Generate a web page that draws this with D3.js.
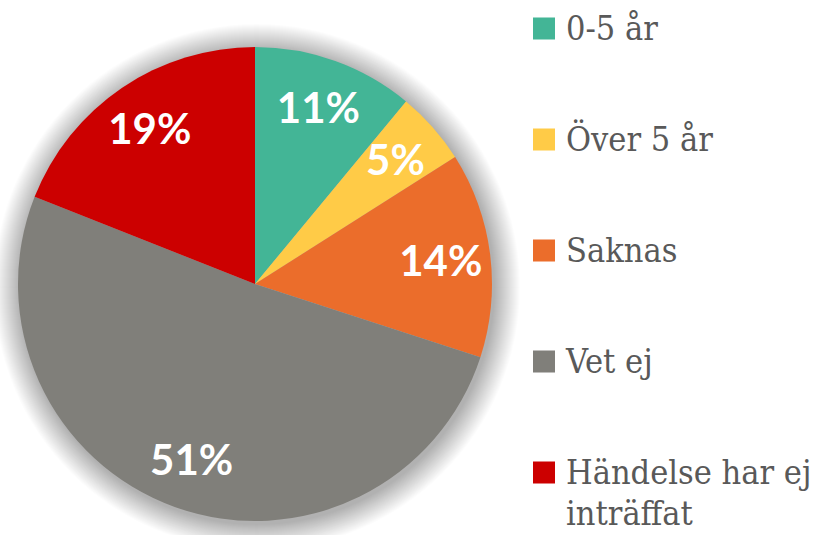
<!DOCTYPE html>
<html>
<head>
<meta charset="utf-8">
<script src="https://cdn.jsdelivr.net/npm/d3@7"></script>
<style>
  body { margin: 0; background: #fff; }
  svg { display: block; }
</style>
</head>
<body>
<div id="chart"></div>
<script>
// data
const categories = ["0-5 år", "Över 5 år", "Saknas", "Vet ej", "Händelse har ej inträffat"]
const values = [11, 5, 14, 51, 19]
const colors = ["#43b596", "#ffcb47", "#eb6d2b", "#807f7a", "#cc0000"]

const width = 826, height = 535
const cx = 255, cy = 284, radius = 237

const svg = d3.select("#chart")
  .append("svg")
    .attr("width", width)
    .attr("height", height)

const pie = d3.pie().sort(null).value(d => d)
const arcs = pie(values)

const arc = d3.arc().innerRadius(0).outerRadius(radius)
const labelArc = d3.arc().innerRadius(radius * 0.79).outerRadius(radius * 0.79)

const g = svg.append("g")
    .attr("transform", "translate(" + cx + "," + cy + ")")

// soft shadow: stacked faint rings behind the pie
g.append("g")
    .attr("transform", "translate(2,3)")
  .selectAll("circle")
  .data(d3.range(1, 27))
  .enter()
  .append("circle")
    .attr("r", k => radius + k)
    .style("fill", "#000")
    .style("fill-opacity", 0.011)

g.append("g")
  .selectAll("path")
  .data(arcs)
  .enter()
  .append("path")
    .attr("d", arc)
    .style("fill", (d, i) => colors[i])

g.selectAll("text.lbl")
  .data(arcs)
  .enter()
  .append("text")
    .attr("class", "lbl")
    .attr("transform", d => "translate(" + labelArc.centroid(d) + ")")
    .attr("text-anchor", "middle")
    .attr("dy", "0.36em")
    .style("font-family", "Lato, 'Open Sans', sans-serif")
    .style("font-weight", 700)
    .style("font-size", "42px")
    .style("fill", "#fff")
    .text(d => d.data + "%")

// legend
const y = d3.scaleBand()
    .domain(categories)
    .range([-27, 528])

const legend = svg.append("g")
    .attr("transform", "translate(533,0)")

const item = legend.selectAll("g")
  .data(categories)
  .enter()
  .append("g")
    .attr("transform", d => "translate(0," + (y(d) + y.bandwidth() / 2) + ")")

item.append("rect")
    .attr("x", 0)
    .attr("y", -11)
    .attr("width", 22)
    .attr("height", 22)
    .style("fill", (d, i) => colors[i])

item.append("text")
    .attr("x", 33)
    .attr("y", 11)
    .style("font-family", "'DejaVu Serif Condensed', 'DejaVu Serif'")
    .style("font-stretch", "condensed")
    .style("font-size", "34px")
    .style("fill", "#595959")
    .each(function(d) {
      const t = d3.select(this)
      const lines = d === "Händelse har ej inträffat" ? ["Händelse har ej", "inträffat"] : [d]
      lines.forEach((l, k) => {
        t.append("tspan").attr("x", 33).attr("dy", k === 0 ? 0 : 41).text(l)
      })
    })
</script>
</body>
</html>
